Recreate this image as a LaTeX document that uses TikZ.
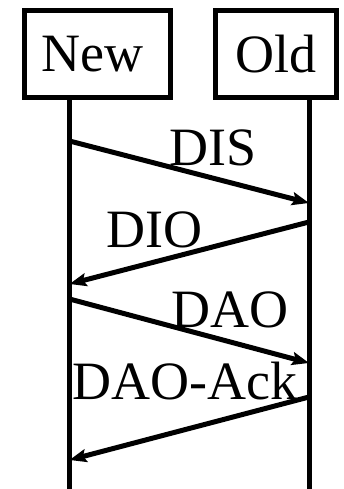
\documentclass[tikz,border=0pt]{standalone}
\usepackage{fontspec}
\setmainfont{Liberation Serif}
\usetikzlibrary{arrows.meta}
\begin{document}
\begin{tikzpicture}[x=1pt,y=-1pt,
  every node/.style={font=\fontsize{54}{62}\selectfont},
  actor/.style={draw,line width=5pt,rectangle,inner sep=0pt,minimum height=87pt},
  life/.style={line width=5pt},
  msg/.style={line width=5pt,-{Stealth[length=17pt,width=13pt,inset=3pt]}},
  lbl/.style={anchor=base west,inner sep=0pt}]
\useasboundingbox (0,0) rectangle (343,489);
\node[actor,minimum width=145.5pt] (new) at (97.25,54.5) {\hspace*{-9pt}New};
\node[actor,minimum width=121.5pt] (old) at (276,54.5) {Old};
% lifeline points
\coordinate (ntop) at (69.5,98);
\coordinate (nbot) at (69.5,489);
\coordinate (otop) at (309,98);
\coordinate (obot) at (309,489);
\draw[life] (ntop) -- (nbot);
\draw[life] (otop) -- (obot);
\coordinate (n1) at (69.5,141);
\coordinate (o1) at (309,203);
\coordinate (o2) at (309,222);
\coordinate (n2) at (69.5,284);
\coordinate (n3) at (69.5,299);
\coordinate (o3) at (309,363);
\coordinate (o4) at (309,397);
\coordinate (n4) at (69.5,460);
\draw[msg] (n1) -- (o1);
\draw[msg] (o2) -- (n2);
\draw[msg] (n3) -- (o3);
\draw[msg] (o4) -- (n4);
\node[lbl] (dis) at (169,165) {DIS};
\node[lbl] (dio) at (106,247) {DIO};
\node[lbl] (dao) at (171,327) {DAO};
\node[lbl] (ack) at (72,399) {DAO-Ack};
\end{tikzpicture}
\end{document}
